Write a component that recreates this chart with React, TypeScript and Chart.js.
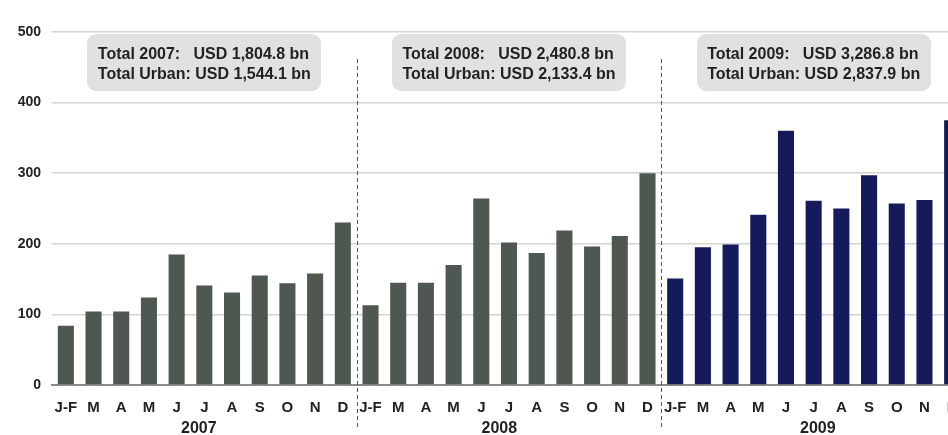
import React, { useEffect, useRef } from "react";
import { Chart, registerables } from "chart.js";

Chart.register(...registerables);

const months = ["J-F", "M", "A", "M", "J", "J", "A", "S", "O", "N", "D"];
const years = ["2007", "2008", "2009"];
const values2007 = [84, 104, 104, 124, 185, 141, 131, 155, 144, 158, 230];
const values2008 = [113, 145, 145, 170, 264, 202, 187, 219, 196, 211, 300];
const values2009 = [151, 195, 199, 241, 360, 261, 250, 297, 257, 262, 375];
const boxLines = [
  ["Total 2007:   USD 1,804.8 bn", "Total Urban: USD 1,544.1 bn"],
  ["Total 2008:   USD 2,480.8 bn", "Total Urban: USD 2,133.4 bn"],
  ["Total 2009:   USD 3,286.8 bn", "Total Urban: USD 2,837.9 bn"],
];
const yTicks = [0, 100, 200, 300, 400, 500];

const GRAY = "#4e5750";
const NAVY = "#141a5a";
const FONT = "Arial, 'Liberation Sans', Helvetica, sans-serif";

const labels = [...months, ...months, ...months];
const values = [...values2007, ...values2008, ...values2009];
const colors = [
  ...values2007.map(() => GRAY),
  ...values2008.map(() => GRAY),
  ...values2009.map(() => NAVY),
];

const annotationPlugin = {
  id: "yearAnnotations",
  afterDraw(chart: any) {
    const ctx = chart.ctx;
    const x = chart.scales.x;
    const area = chart.chartArea;
    const n = months.length;
    ctx.save();
    // dashed separators
    ctx.strokeStyle = "#555555";
    ctx.lineWidth = 1;
    ctx.setLineDash([4, 3]);
    for (let k = 1; k < years.length; k++) {
      const px = Math.round((x.getPixelForValue(k * n - 1) + x.getPixelForValue(k * n)) / 2) + 0.5;
      ctx.beginPath();
      ctx.moveTo(px, area.top + 27);
      ctx.lineTo(px, area.bottom + 43);
      ctx.stroke();
    }
    ctx.setLineDash([]);
    // boxes
    const boxW = 234;
    const boxH = 57;
    const centers = [5, 16, 27];
    ctx.font = "bold 16px " + FONT;
    for (let k = 0; k < years.length; k++) {
      const cx = x.getPixelForValue(centers[k]);
      const bx = Math.round(cx - boxW / 2);
      const by = area.top + 2;
      ctx.fillStyle = "#e0e1e3";
      ctx.beginPath();
      (ctx as any).roundRect(bx, by, boxW, boxH, 9);
      ctx.fill();
      ctx.fillStyle = "#222222";
      ctx.textBaseline = "middle";
      ctx.textAlign = "left";
      const w = Math.max(...boxLines[k].map((s) => ctx.measureText(s).width));
      const tx = cx - w / 2;
      ctx.fillText(boxLines[k][0], tx, by + 21);
      ctx.fillText(boxLines[k][1], tx, by + 41);
    }
    // year labels
    const yearPos = [4.8, 15.65, 27.15];
    ctx.font = "bold 16px " + FONT;
    ctx.textAlign = "center";
    ctx.textBaseline = "middle";
    ctx.fillStyle = "#222222";
    for (let k = 0; k < years.length; k++) {
      ctx.fillText(years[k], x.getPixelForValue(yearPos[k]), area.bottom + 44);
    }
    ctx.restore();
  },
};

export default function App() {
  const ref = useRef<HTMLCanvasElement>(null);
  useEffect(() => {
    if (!ref.current) return;
    const chart = new Chart(ref.current, {
      type: "bar",
      data: {
        labels,
        datasets: [
          {
            data: values,
            backgroundColor: colors,
            barPercentage: 0.58,
            categoryPercentage: 1,
          },
        ],
      },
      options: {
        responsive: false,
        animation: false,
        events: [],
        layout: { padding: { left: 0, top: 32, right: 14, bottom: 0 } },
        plugins: {
          legend: { display: false },
          tooltip: { enabled: false },
          title: { display: false },
        },
        scales: {
          x: {
            grid: { display: false, drawTicks: false },
            border: { display: true, color: "#8c8c8c", width: 2 },
            ticks: {
              autoSkip: false,
              maxRotation: 0,
              minRotation: 0,
              padding: 14,
              color: "#222222",
              font: { family: FONT, size: 15, weight: "bold" },
            },
            afterFit(scale: any) {
              scale.height = 50;
            },
          },
          y: {
            min: 0,
            max: 500,
            afterBuildTicks(scale: any) {
              scale.ticks = yTicks.map((v) => ({ value: v }));
            },
            grid: { color: "#d4d4d4", lineWidth: 1.5, drawTicks: false },
            border: { display: false },
            ticks: {
              padding: 11,
              color: "#222222",
              font: { family: FONT, size: 14, weight: "bold" },
            },
            afterFit(scale: any) {
              scale.width = 52;
            },
          },
        },
      },
      plugins: [annotationPlugin],
    });
    return () => chart.destroy();
  }, []);
  return (
    <div
      style={{
        position: "absolute",
        left: 0,
        top: 0,
        width: 948,
        height: 435,
        overflow: "hidden",
        background: "#ffffff",
      }}
    >
      <canvas ref={ref} width={980} height={435} style={{ display: "block" }} />
    </div>
  );
}
